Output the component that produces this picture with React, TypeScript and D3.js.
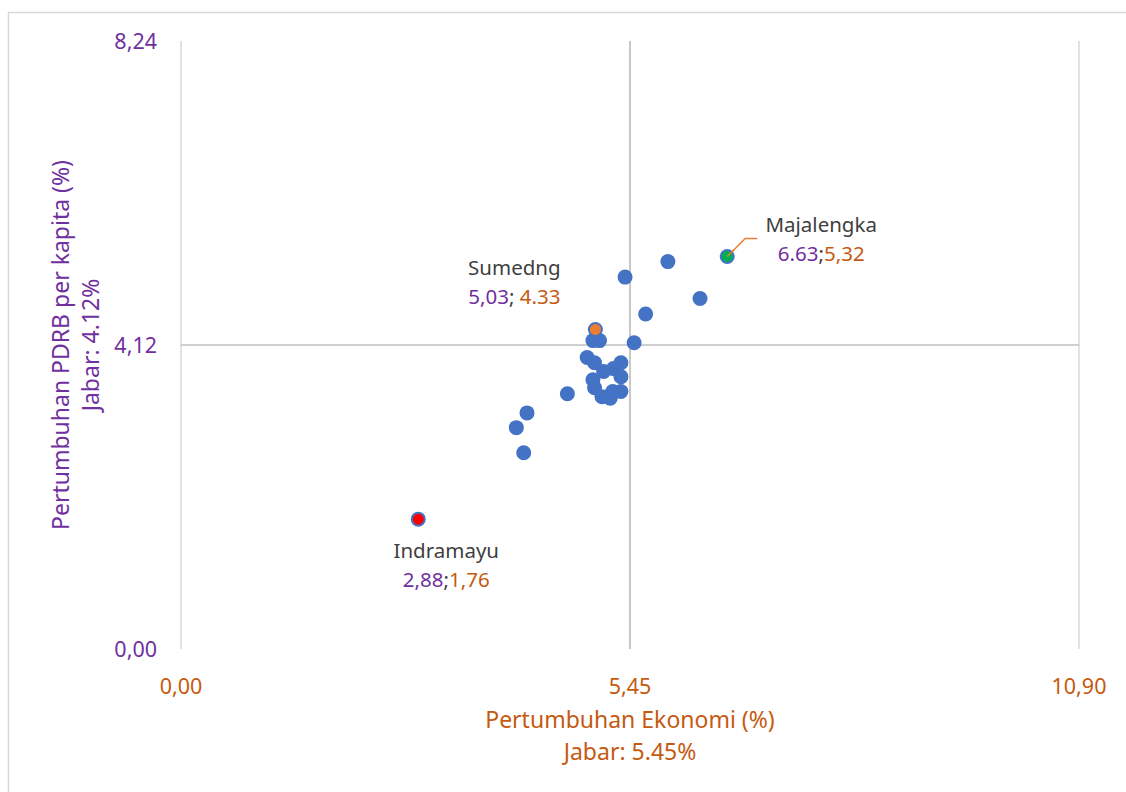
import * as d3 from 'd3';

// data
const xTicks = [0, 5.45, 10.9];
const yTicks = [0, 4.12, 8.24];
const jabarX = 5.45;
const jabarY = 4.12;

const ekonomi = [5.91, 5.39, 6.30, 5.64, 5.00, 5.08, 5.50, 4.93, 5.02, 5.13, 5.25, 5.34, 5.34, 5.00, 5.02, 5.11, 5.21, 5.24, 5.34, 4.69, 4.20, 4.07, 4.16];
const pdrb    = [5.25, 5.04, 4.75, 4.54, 4.18, 4.18, 4.15, 3.95, 3.88, 3.76, 3.80, 3.88, 3.69, 3.65, 3.54, 3.42, 3.40, 3.49, 3.49, 3.46, 3.20, 3.00, 2.66];

const highlightNames = ['Sumedng', 'Majalengka', 'Indramayu'];
const highlightX     = [5.03, 6.63, 2.88];
const highlightY     = [4.33, 5.32, 1.76];
const highlightXText = ['5,03', '6.63', '2,88'];
const highlightYText = ['4.33', '5,32', '1,76'];
const highlightSep   = ['; ', ';', ';'];
const highlightFill  = ['#ED7D31', '#00B050', '#FF0000'];

const fmt = (v: number) => v.toFixed(2).replace('.', ',');

const PURPLE = '#7030A0';
const ORANGE = '#C55A11';
const GRAY = '#404040';
const FONT = '"Noto Sans", sans-serif';

export default function App() {
  const width = 1126;
  const height = 792;
  const x = d3.scaleLinear().domain([0, 10.9]).range([181, 1079]);
  const y = d3.scaleLinear().domain([0, 8.24]).range([649, 41]);

  // posisi label relatif ke titik
  const labelOffset = [
    { dx: -81, dy: -62 },
    { dx: 94, dy: -32 },
    { dx: 28, dy: 32 },
  ];

  const pts = ekonomi.map((e, i) => ({ x: e, y: pdrb[i] }));
  const mx = x(highlightX[1]);
  const my = y(highlightY[1]);

  return (
    <svg width={width} height={height} style={{ position: 'absolute', left: 0, top: 0 }} fontFamily={FONT}>
      <rect x={0} y={0} width={width} height={height} fill="#fff" />
      <rect x={8.5} y={12.5} width={1130} height={800} fill="none" stroke="#D9D9D9" strokeWidth={1.5} />

      {/* gridlines vertikal */}
      {xTicks.map((t) => (
        <line key={'gx' + t} x1={x(t)} x2={x(t)} y1={y(8.24)} y2={y(0)} stroke="#D9D9D9" strokeWidth={1.5} />
      ))}
      {/* garis Jabar */}
      <line x1={x(0)} x2={x(10.9)} y1={y(jabarY)} y2={y(jabarY)} stroke="#BFBFBF" strokeWidth={1.5} />
      <line x1={x(jabarX)} x2={x(jabarX)} y1={y(8.24)} y2={y(0)} stroke="#BFBFBF" strokeWidth={1.5} />

      {/* tick labels */}
      {yTicks.map((t) => (
        <text key={'ty' + t} x={157} y={y(t)} dy="0.35em" textAnchor="end" fontSize={21.5} fill={PURPLE}>
          {fmt(t)}
        </text>
      ))}
      {xTicks.map((t) => (
        <text key={'tx' + t} x={x(t)} y={686} dy="0.35em" textAnchor="middle" fontSize={21.5} fill={ORANGE}>
          {fmt(t)}
        </text>
      ))}

      {/* judul sumbu */}
      <text x={x(jabarX)} y={720} dy="0.35em" textAnchor="middle" fontSize={23} fill={ORANGE}>
        Pertumbuhan Ekonomi (%)
      </text>
      <text x={x(jabarX)} y={752} dy="0.35em" textAnchor="middle" fontSize={23} fill={ORANGE}>
        Jabar: 5.45%
      </text>
      <g transform={`translate(61,${y(jabarY)}) rotate(-90)`}>
        <text x={0} y={0} dy="0.35em" textAnchor="middle" fontSize={23} fill={PURPLE}>
          Pertumbuhan PDRB per kapita (%)
        </text>
        <text x={0} y={30} dy="0.35em" textAnchor="middle" fontSize={23} fill={PURPLE}>
          Jabar: 4.12%
        </text>
      </g>

      {/* leader line Majalengka */}
      <polyline
        points={`${mx},${my} ${mx + 18},${my - 18} ${mx + 30},${my - 18}`}
        fill="none"
        stroke="#ED7D31"
        strokeWidth={1.5}
      />

      {/* titik */}
      {pts.map((p, i) => (
        <circle key={i} cx={x(p.x)} cy={y(p.y)} r={7.5} fill="#4472C4" />
      ))}
      {highlightX.map((hx, i) => (
        <circle key={'h' + i} cx={x(hx)} cy={y(highlightY[i])} r={6.5} fill={highlightFill[i]} stroke="#4472C4" strokeWidth={2} />
      ))}
      <line x1={mx} y1={my} x2={mx + 7} y2={my - 7} stroke="#ED7D31" strokeWidth={1.5} />

      {/* label data */}
      {highlightNames.map((n, i) => {
        const cx = x(highlightX[i]) + labelOffset[i].dx;
        const cy = y(highlightY[i]) + labelOffset[i].dy;
        return (
          <g key={'l' + i}>
            <text x={cx} y={cy} dy="0.35em" textAnchor="middle" fontSize={20.5} fill={GRAY}>
              {n}
            </text>
            <text x={cx} y={cy + 29} dy="0.35em" textAnchor="middle" fontSize={20.5}>
              <tspan fill={PURPLE}>{highlightXText[i]}</tspan>
              <tspan fill={GRAY}>{highlightSep[i]}</tspan>
              <tspan fill={ORANGE}>{highlightYText[i]}</tspan>
            </text>
          </g>
        );
      })}
    </svg>
  );
}
